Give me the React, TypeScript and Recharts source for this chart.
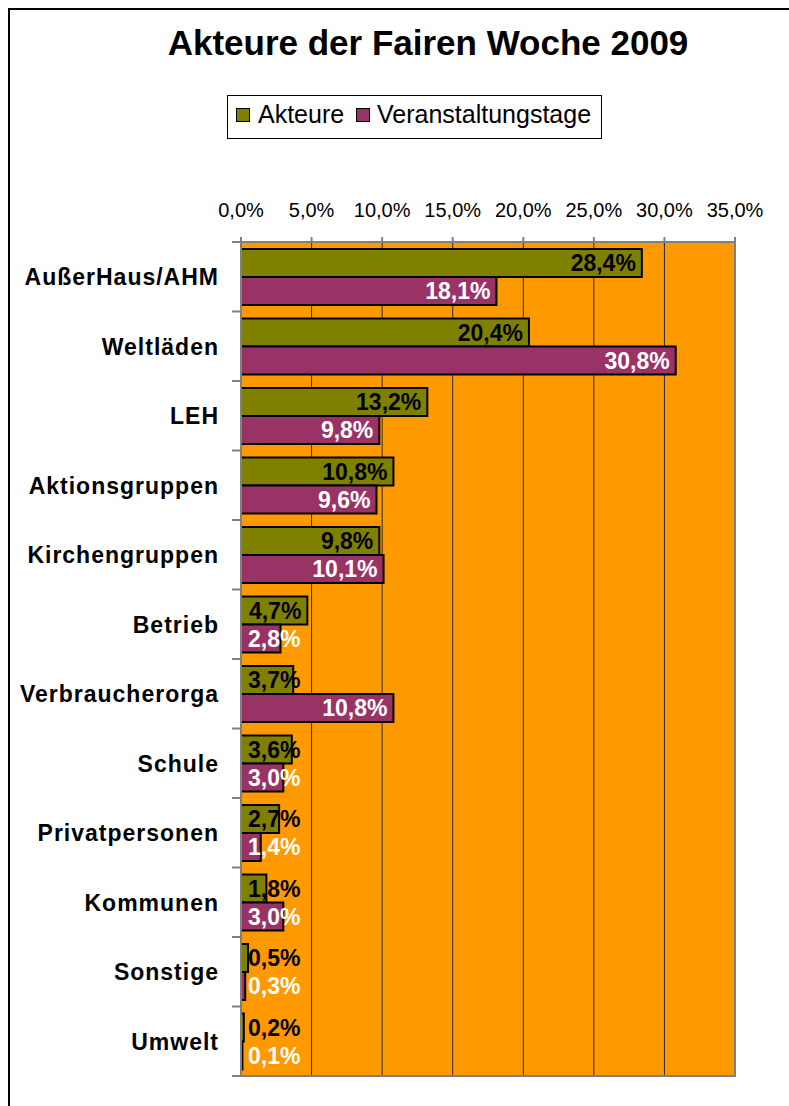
import React from "react";
import { BarChart, Bar, XAxis, YAxis, CartesianGrid, LabelList, ReferenceArea } from "recharts";

// Akteure der Fairen Woche 2009, Anteile in Prozent
const CATEGORIES = [
    "AußerHaus/AHM",
    "Weltläden",
    "LEH",
    "Aktionsgruppen",
    "Kirchengruppen",
    "Betrieb",
    "Verbraucherorga",
    "Schule",
    "Privatpersonen",
    "Kommunen",
    "Sonstige",
    "Umwelt",
];
const AKTEURE = [28.4, 20.4, 13.2, 10.8, 9.8, 4.7, 3.7, 3.6, 2.7, 1.8, 0.5, 0.2];
const VERANSTALTUNGSTAGE = [18.1, 30.8, 9.8, 9.6, 10.1, 2.8, 10.8, 3.0, 1.4, 3.0, 0.3, 0.1];
const X_TICKS = [0, 5, 10, 15, 20, 25, 30, 35];

const data = CATEGORIES.map((name, i) => ({
    name,
    akteure: AKTEURE[i],
    tage: VERANSTALTUNGSTAGE[i],
}));

const FONT = "'Liberation Sans', Arial, sans-serif";
const CHART_W = 779;
const CHART_H = 1096;
const PLOT_LEFT = 231;
const PLOT_TOP = 232;
const PLOT_BOTTOM = 1066;
const BAND = (PLOT_BOTTOM - PLOT_TOP) / CATEGORIES.length;
const LABEL_SIZE = 23;

const fmt = (v: number) => v.toFixed(1).replace(".", ",") + "%";

let ctx: CanvasRenderingContext2D | null = null;
const measure = (s: string, font: string) => {
    if (!ctx) ctx = document.createElement("canvas").getContext("2d");
    if (!ctx) return s.length * 12;
    ctx.font = font;
    return ctx.measureText(s).width;
};

const XTick = (props: any) => {
    const { x, payload } = props;
    return (
        <text x={x} y={207} textAnchor="middle" fontSize={20} fontFamily={FONT} fill="#000">
            {fmt(payload.value)}
        </text>
    );
};

const YTick = (props: any) => {
    const { y, payload, index } = props;
    const last = index === CATEGORIES.length - 1;
    return (
        <g>
            <line x1={PLOT_LEFT - 9} x2={PLOT_LEFT} y1={y - BAND / 2} y2={y - BAND / 2} stroke="#808080" strokeWidth={2} />
            {last && (
                <line x1={PLOT_LEFT - 9} x2={PLOT_LEFT} y1={y + BAND / 2} y2={y + BAND / 2} stroke="#808080" strokeWidth={2} />
            )}
            <text
                x={PLOT_LEFT - 22}
                y={y}
                dy="0.36em"
                textAnchor="end"
                fontSize={23}
                fontWeight="bold"
                letterSpacing={1}
                fontFamily={FONT}
                fill="#000"
            >
                {payload.value}
            </text>
        </g>
    );
};

const makeLabel = (color: string) => (props: any) => {
    const x = Number(props.x);
    const y = Number(props.y);
    const width = Number(props.width);
    const height = Number(props.height);
    const txt = fmt(Number(props.value));
    const w = measure(txt, `bold ${LABEL_SIZE}px ${FONT}`);
    const start = Math.max(x + width - 6 - w, x + 7);
    return (
        <text x={start} y={y + height / 2} dy="0.36em" fontSize={LABEL_SIZE} fontWeight="bold" fontFamily={FONT} fill={color}>
            {txt}
        </text>
    );
};

const LegendBox = () => (
    <div
        style={{
            position: "absolute",
            left: 217,
            top: 85,
            width: 375,
            height: 44,
            boxSizing: "border-box",
            border: "1px solid #000",
            background: "#fff",
            fontFamily: FONT,
            fontSize: 25,
            lineHeight: "25px",
        }}
    >
        <div style={{ position: "absolute", left: 8, top: 12, width: 12, height: 12, background: "#808000", border: "1px solid #000" }} />
        <span style={{ position: "absolute", left: 30, top: 6 }}>Akteure</span>
        <div style={{ position: "absolute", left: 128, top: 12, width: 12, height: 12, background: "#993366", border: "1px solid #000" }} />
        <span style={{ position: "absolute", left: 149, top: 6 }}>Veranstaltungstage</span>
    </div>
);

export default function App() {
    return (
        <>
            <style>{"html,body{margin:0;overflow:hidden;background:#fff}"}</style>
            <div
                style={{
                    position: "absolute",
                    left: 8,
                    top: 8,
                    width: CHART_W,
                    height: CHART_H,
                    borderLeft: "2px solid #000",
                    borderTop: "2px solid #000",
                    fontFamily: FONT,
                }}
            >
                <div
                    style={{
                        position: "absolute",
                        left: 118,
                        top: 15,
                        width: 600,
                        textAlign: "center",
                        fontSize: 35,
                        lineHeight: "35px",
                        fontWeight: "bold",
                        color: "#000",
                    }}
                >
                    Akteure der Fairen Woche 2009
                </div>
                <LegendBox />
                <BarChart
                    width={CHART_W}
                    height={CHART_H}
                    data={data}
                    layout="vertical"
                    margin={{ top: PLOT_TOP - 40, right: CHART_W - 725, bottom: CHART_H - PLOT_BOTTOM, left: 0 }}
                    barCategoryGap={7}
                    barGap={0}
                >
                    <CartesianGrid horizontal={false} stroke="#2a2a2a" fill="#FF9900" fillOpacity={1} />
                    <XAxis
                        type="number"
                        orientation="top"
                        domain={[0, 35]}
                        ticks={X_TICKS}
                        height={40}
                        tickSize={5}
                        tick={<XTick />}
                        tickLine={{ stroke: "#808080", strokeWidth: 2 }}
                        axisLine={{ stroke: "#808080", strokeWidth: 2 }}
                        interval={0}
                    />
                    <YAxis
                        type="category"
                        dataKey="name"
                        width={PLOT_LEFT}
                        tickLine={false}
                        axisLine={{ stroke: "#808080", strokeWidth: 2 }}
                        tick={<YTick />}
                        interval={0}
                    />
                    <ReferenceArea x1={0} x2={35} fill="none" stroke="#808080" strokeWidth={2} />
                    <Bar dataKey="akteure" fill="#808000" stroke="#000" strokeWidth={2} isAnimationActive={false}>
                        <LabelList dataKey="akteure" content={makeLabel("#000")} />
                    </Bar>
                    <Bar dataKey="tage" fill="#993366" stroke="#000" strokeWidth={2} isAnimationActive={false}>
                        <LabelList dataKey="tage" content={makeLabel("#fff")} />
                    </Bar>
                </BarChart>
            </div>
        </>
    );
}
